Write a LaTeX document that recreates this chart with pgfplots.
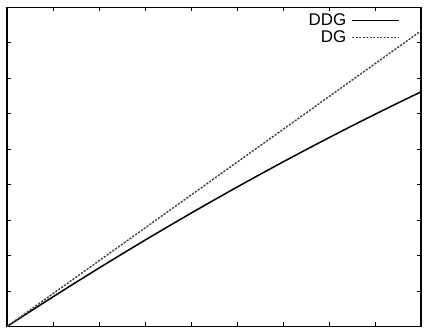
\documentclass[border=0pt]{standalone}
\usepackage{pgfplots}
\pgfplotsset{compat=1.18}
\usepackage{fontspec}
\setmainfont{Liberation Sans}
\begin{document}
\begin{tikzpicture}
\begin{axis}[
  scale only axis,
  width=414bp, height=319bp,
  xmin=0, xmax=9, ymin=0, ymax=9,
  xtick={1,2,3,4,5,6,7,8},
  ytick={1,2,3,4,5,6,7,8},
  xticklabels={}, yticklabels={},
  tick align=inside,
  major tick length=4bp,
  tick style={black, line width=1bp},
  axis line style={black, line width=1.6bp},
  legend plot pos=right,
  legend cell align=right,
  legend style={draw=none, fill=none, at={(1,1)}, anchor=north east,
    xshift=-21bp, yshift=-4bp, inner sep=0pt, row sep=0bp,
    nodes={inner xsep=5bp, inner ysep=2bp, font=\fontsize{17}{18}\selectfont}},
  legend image code/.code={\draw[#1] (0bp,0bp) -- (47bp,0bp);},
]
\addplot[black, line width=1.5bp] coordinates {
(0,0) (0.5,0.422) (1,0.837) (1.5,1.246) (2,1.649) (2.5,2.046) (3,2.436)
(3.5,2.819) (4,3.197) (4.5,3.568) (5,3.933) (5.5,4.291) (6,4.643)
(6.5,4.988) (7,5.328) (7.5,5.661) (8,5.987) (8.5,6.307) (9,6.62)};
\addlegendentry{DDG}
\addplot[black!70, line width=1.5bp, dash pattern=on 2.2bp off 1.3bp] coordinates {
(0,0) (3,2.78) (6,5.56) (9,8.34)};
\addlegendentry{DG}
\end{axis}
\path ([xshift=-7bp,yshift=-9.5bp]current axis.south west) rectangle ([xshift=3bp,yshift=7.5bp]current axis.north east);
\end{tikzpicture}
\end{document}
